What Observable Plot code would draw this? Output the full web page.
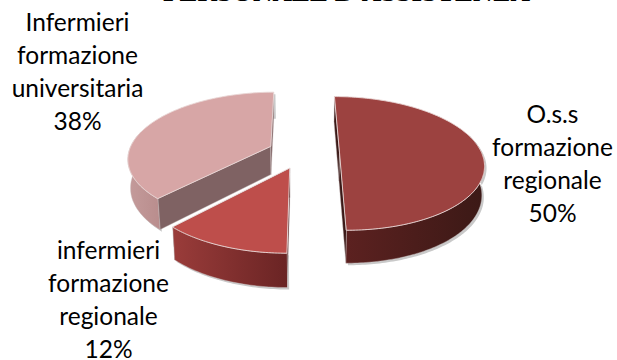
<!DOCTYPE html>
<html>
<head>
<meta charset="utf-8">
<style>
  html, body { margin: 0; padding: 0; background: #fff; overflow: hidden; }
  svg { display: block; }
</style>
<script src="https://cdn.jsdelivr.net/npm/d3@7"></script>
<script src="https://cdn.jsdelivr.net/npm/@observablehq/plot@0.6"></script>
</head>
<body>
<div id="chart"></div>
<script>
const categories = ["O.s.s formazione regionale", "infermieri formazione regionale", "Infermieri formazione universitaria"];
const shares = [50, 12, 38];
const labelLines = [
  ["O.s.s", "formazione", "regionale", "50%"],
  ["infermieri", "formazione", "regionale", "12%"],
  ["Infermieri", "formazione", "universitaria", "38%"]
];
const title = "PERSONALE D'ASSISTENZA";

// Where each label block sits: centre x and first baseline.
const labelAnchors = [[552, 122], [108, 258], [77, 30]];
const lineStep = 33;

// Face colours per slice.
const topColors = ["#9c4240", "#be4e4b", "#d7a6a6"];
const cutColors = ["#3a1917", "#4a1c1b", "#7f6263"];
const rimGradients = ["rim0", "rim1", "rim2"];
const rimStops = [["#5c2120", "#3b1916"], ["#9a3c3a", "#6a2424"], ["#c49b9b", "#b98d8d"]];

// Perspective pie: plane radius, explosion, vanishing point, tilt, thickness.
const R = 142, E = 36, VX = 303, VY = 152, TILT = 0.458, PERSP = 0.00115;
const project = (X, Y) => {
  const s = 1 / (1 + PERSP * Y);
  return [VX + X * s, VY - TILT * Y * s];
};
const lower = ([x, y]) => [VX + (x - VX) * 0.985, y + 28 + (y - 147) * 0.06];

const rad = (d) => d * Math.PI / 180;
let cum = 0;
const slices = shares.map((v, i) => {
  const a0 = cum * 3.6, a1 = (cum + v) * 3.6;
  cum += v;
  const mid = rad((a0 + a1) / 2);
  const ox = E * Math.sin(mid), oy = E * Math.cos(mid);
  const onRim = (deg) => project(ox + R * Math.sin(rad(deg)), oy + R * Math.cos(rad(deg)));
  const arc = [];
  for (let d = a0; d <= a1 + 1e-6; d += 1) arc.push(onRim(d));
  return {i, a0, a1, apex: project(ox, oy), arc};
});

// Flatten a list of faces into rows for the polygon mark.
const faces = [];
const addFace = (id, fill, pts) => pts.forEach(([x, y]) => faces.push({id, fill, x, y}));

// Drawn back to front: pink slice, big slice, then the red one in front.
for (const i of [2, 0, 1]) {
  const s = slices[i];
  const first = s.arc[0], last = s.arc[s.arc.length - 1];
  // Soft shadow behind the body
  const bodyLow = s.arc.map(lower);
  addFace(`${i}-shadow`, "#c9c9c9",
    [...s.arc, ...bodyLow.slice().reverse()].map(([x, y]) => [x + 2, y + 2]));
  // Cut faces along both straight edges
  addFace(`${i}-cutA`, cutColors[i], [s.apex, first, lower(first), lower(s.apex)]);
  addFace(`${i}-cutB`, cutColors[i], [s.apex, last, lower(last), lower(s.apex)]);
  // Outer wall: only the part that faces the viewer (the top face hides any excess)
  const front = s.arc.filter((p, k) => {
    const d = s.a0 + k;
    return d >= 75 && d <= 285;
  });
  if (front.length > 1) {
    addFace(`${i}-rim`, `url(#${rimGradients[i]})`, [...front, ...front.map(lower).reverse()]);
  }
  // Top face
  addFace(`${i}-top`, topColors[i], [s.apex, ...s.arc]);
}

const gradients = () => {
  const ns = "http://www.w3.org/2000/svg";
  const defs = document.createElementNS(ns, "defs");
  rimGradients.forEach((id, i) => {
    const g = document.createElementNS(ns, "linearGradient");
    g.setAttribute("id", id);
    rimStops[i].forEach((c, k) => {
      const st = document.createElementNS(ns, "stop");
      st.setAttribute("offset", k);
      st.setAttribute("stop-color", c);
      g.appendChild(st);
    });
    defs.appendChild(g);
  });
  return defs;
};

const labelRows = labelLines.flatMap((lines, i) =>
  lines.map((text, k) => ({text, x: labelAnchors[i][0], y: labelAnchors[i][1] + k * lineStep})));

const ids = [...new Set(faces.map((d) => d.id))];
const chart = Plot.plot({
  width: 617,
  height: 360,
  margin: 0,
  x: {domain: [0, 617], range: [0, 617], axis: null},
  y: {domain: [0, 360], range: [0, 360], axis: null},
  marks: [
    gradients,
    ...ids.map((id) => {
      const rows = faces.filter((d) => d.id === id);
      const isTop = id.endsWith("top");
      return Plot.line(rows, {
        x: "x", y: "y", curve: "linear-closed",
        fill: rows[0].fill,
        stroke: isTop ? "#e9d6d5" : id.endsWith("shadow") ? "none" : "#cfc4c4",
        strokeWidth: isTop ? 0.9 : 0.4
      });
    }),
    // The heading runs off the top of the frame, only its lower edge shows
    Plot.text([title], {
      x: () => 346, y: () => 0, text: (d) => d, lineAnchor: "bottom",
      fontFamily: "Liberation Serif", fontWeight: "bold", fontSize: 27, fill: "#000"
    }),
    Plot.text(labelRows, {
      x: "x", y: "y", text: "text",
      fontFamily: "Lato", fontSize: 24.5, fill: "#000", lineAnchor: "bottom"
    })
  ]
});
document.getElementById("chart").appendChild(chart);
</script>
</body>
</html>
